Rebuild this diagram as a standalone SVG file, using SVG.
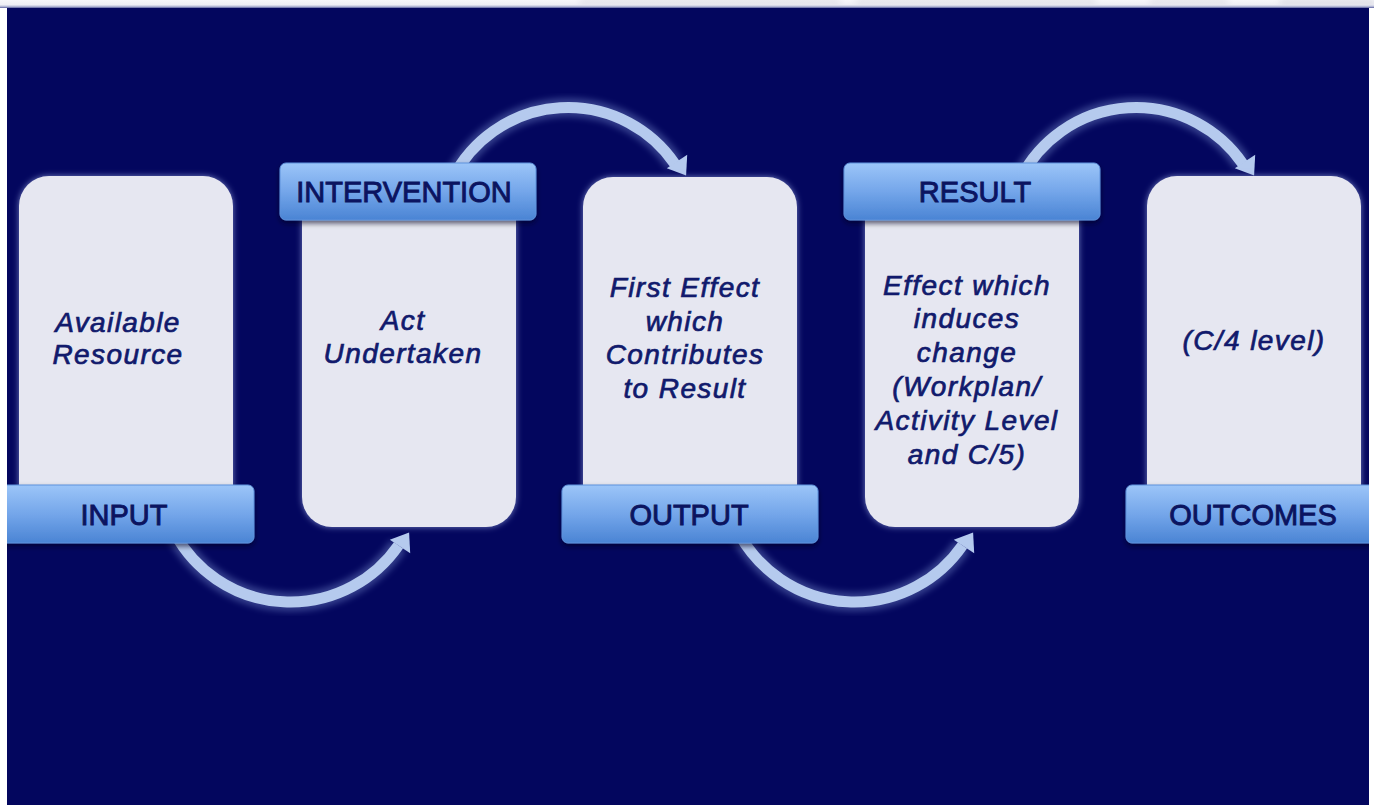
<svg xmlns="http://www.w3.org/2000/svg" width="1374" height="805" viewBox="0 0 1374 805">
  <style>
    .card { fill: #e6e7f1; filter: url(#cardGlow); }
    .tab { fill: url(#tabFill); stroke: #5f92dc; stroke-width: 1; filter: url(#tabShadow); }
    .tabText { font-family: "Liberation Sans", Arial, sans-serif; font-size: 29px; font-weight: normal; fill: #0b1460; stroke: #0b1460; stroke-width: 0.9; text-anchor: middle; }
    .body { font-family: "Liberation Sans", Arial, sans-serif; font-size: 28px; font-weight: normal; font-style: italic; letter-spacing: 1.4px; fill: #111a6c; stroke: #111a6c; stroke-width: 0.7; text-anchor: middle; }
    .halo { fill: none; stroke: #8ea6e2; stroke-width: 19; opacity: 0.35; filter: url(#soft); }
    .shaft { fill: none; stroke: #b5caee; stroke-width: 11; }
    .head { fill: #b5caee; }
  </style>
  <defs>
    <linearGradient id="tabFill" x1="0" y1="0" x2="0" y2="1">
      <stop offset="0" stop-color="#9cc5f8"/>
      <stop offset="0.5" stop-color="#74a6ea"/>
      <stop offset="1" stop-color="#4a84d4"/>
    </linearGradient>
    <linearGradient id="topBand" x1="0" y1="0" x2="0" y2="1">
      <stop offset="0" stop-color="#f6f6f9"/>
      <stop offset="0.6" stop-color="#eeeef4"/>
      <stop offset="0.8" stop-color="#b9bdd8"/>
      <stop offset="1" stop-color="#5a60a0"/>
    </linearGradient>
    <filter id="soft" x="-20%" y="-20%" width="140%" height="140%">
      <feGaussianBlur stdDeviation="3"/>
    </filter>
    <filter id="cardGlow" x="-10%" y="-10%" width="120%" height="120%">
      <feGaussianBlur in="SourceAlpha" stdDeviation="3" result="b"/>
      <feFlood flood-color="#9fb0e8" flood-opacity="0.7"/>
      <feComposite in2="b" operator="in" result="g"/>
      <feMerge><feMergeNode in="g"/><feMergeNode in="SourceGraphic"/></feMerge>
    </filter>
    <filter id="tabShadow" x="-10%" y="-20%" width="120%" height="150%">
      <feGaussianBlur in="SourceAlpha" stdDeviation="2.5" result="b"/>
      <feOffset in="b" dy="3" result="o"/>
      <feFlood flood-color="#000020" flood-opacity="0.6"/>
      <feComposite in2="o" operator="in" result="s"/>
      <feMerge><feMergeNode in="s"/><feMergeNode in="SourceGraphic"/></feMerge>
    </filter>
    <clipPath id="stage">
      <rect x="7" y="8" width="1362" height="797"/>
    </clipPath>
  </defs>

  <!-- page frame: light window edge around the dark slide -->
  <rect x="0" y="0" width="1374" height="805" fill="#ffffff"/>
  <rect x="0" y="0" width="1374" height="8" fill="url(#topBand)"/>
  <g fill="#c9cad6" opacity="0.8" filter="url(#soft)">
    <rect x="580" y="0" width="260" height="3"/>
    <rect x="856" y="0" width="240" height="3"/>
    <rect x="1150" y="0" width="78" height="3"/>
    <rect x="1280" y="0" width="94" height="4"/>
  </g>
  <rect x="7" y="8" width="1362" height="797" fill="#03065e"/>

  <g clip-path="url(#stage)">
    <!-- connectors: curved arrows between the stages -->
    <g id="connectors">
      <g id="arrow-input-intervention">
        <path class="halo" d="M175 533.7 A131.5 131.5 0 0 0 398.5 545.3"/>
        <path class="shaft" d="M175 533.7 A131.5 131.5 0 0 0 398.5 545.3"/>
        <polygon class="head" points="409.1,532.4 410.2,553.2 389.8,539.8"/>
      </g>
      <g id="arrow-intervention-output" transform="translate(278 0)">
        <path class="halo" d="M175 177.5 A129.5 129.5 0 0 1 396.8 163.8"/>
        <path class="shaft" d="M175 177.5 A129.5 129.5 0 0 1 396.8 163.8"/>
        <polygon class="head" points="408.1,175.6 409.2,154.8 388.8,168.2"/>
      </g>
      <g id="arrow-output-result" transform="translate(564 0)">
        <path class="halo" d="M175 533.7 A131.5 131.5 0 0 0 398.5 545.3"/>
        <path class="shaft" d="M175 533.7 A131.5 131.5 0 0 0 398.5 545.3"/>
        <polygon class="head" points="409.1,532.4 410.2,553.2 389.8,539.8"/>
      </g>
      <g id="arrow-result-outcomes" transform="translate(846 0)">
        <path class="halo" d="M175 177.5 A129.5 129.5 0 0 1 396.8 163.8"/>
        <path class="shaft" d="M175 177.5 A129.5 129.5 0 0 1 396.8 163.8"/>
        <polygon class="head" points="408.1,175.6 409.2,154.8 388.8,168.2"/>
      </g>
    </g>

    <g id="node-input">
      <rect class="card" x="19" y="176" width="214" height="340" rx="30"/>
      <text class="body" x="118" y="332">Available</text>
      <text class="body" x="118" y="364">Resource</text>
      <rect class="tab" x="-2" y="485" width="256" height="58" rx="6"/>
      <text class="tabText" x="124" y="525">INPUT</text>
    </g>

    <g id="node-intervention">
      <rect class="card" x="302" y="190" width="214" height="337" rx="30"/>
      <text class="body" x="403" y="330">Act</text>
      <text class="body" x="403" y="363">Undertaken</text>
      <rect class="tab" x="280" y="163" width="256" height="57" rx="6"/>
      <text class="tabText" x="404" y="202">INTERVENTION</text>
    </g>

    <g id="node-output">
      <rect class="card" x="583" y="177" width="214" height="339" rx="30"/>
      <text class="body" x="685" y="297">First Effect</text>
      <text class="body" x="685" y="331">which</text>
      <text class="body" x="685" y="364">Contributes</text>
      <text class="body" x="685" y="398">to Result</text>
      <rect class="tab" x="562" y="485" width="256" height="58" rx="6"/>
      <text class="tabText" x="689" y="525">OUTPUT</text>
    </g>

    <g id="node-result">
      <rect class="card" x="865" y="190" width="214" height="337" rx="30"/>
      <text class="body" x="967" y="295">Effect which</text>
      <text class="body" x="967" y="328">induces</text>
      <text class="body" x="967" y="362">change</text>
      <text class="body" x="967" y="396">(Workplan/</text>
      <text class="body" x="967" y="430">Activity Level</text>
      <text class="body" x="967" y="464">and C/5)</text>
      <rect class="tab" x="844" y="163" width="256" height="57" rx="6"/>
      <text class="tabText" x="975" y="202">RESULT</text>
    </g>

    <g id="node-outcomes">
      <rect class="card" x="1147" y="176" width="214" height="340" rx="30"/>
      <text class="body" x="1254" y="350">(C/4 level)</text>
      <rect class="tab" x="1126" y="485" width="256" height="58" rx="6"/>
      <text class="tabText" x="1253" y="525">OUTCOMES</text>
    </g>
  </g>
</svg>
